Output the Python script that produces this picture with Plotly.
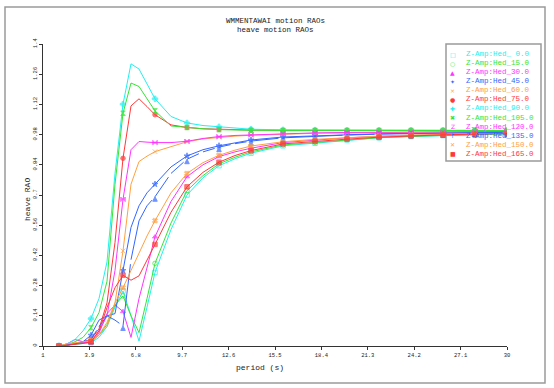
import plotly.graph_objects as go

# ---------------- data ----------------
period = [2, 2.5, 3, 3.5, 4, 4.5, 5, 5.5, 6, 6.5, 7, 7.5, 8, 9, 10, 11, 12, 13, 14,
          16, 18, 20, 22, 24, 26, 28, 30]

hed_0 = [0, 0.003, 0.008, 0.012, 0.015, 0.04, 0.09, 0.18, 0.255, 0.14, 0.023, 0.18, 0.341,
         0.54, 0.70, 0.78, 0.836, 0.868, 0.894, 0.928, 0.940, 0.955, 0.965, 0.971, 0.976, 0.980, 0.983]
hed_15 = [0, 0.003, 0.01, 0.015, 0.02, 0.05, 0.10, 0.19, 0.232, 0.14, 0.062, 0.22, 0.383,
          0.57, 0.72, 0.79, 0.845, 0.875, 0.90, 0.932, 0.944, 0.957, 0.966, 0.972, 0.977, 0.981, 0.984]
hed_30 = [0, 0.01, 0.03, 0.02, 0.015, 0.06, 0.15, 0.19, 0.16, 0.04, 0.22, 0.37, 0.506,
          0.67, 0.785, 0.84, 0.878, 0.90, 0.917, 0.943, 0.955, 0.965, 0.972, 0.977, 0.981, 0.984, 0.987]
hed_45 = [0, 0.005, 0.01, 0.02, 0.05, 0.12, 0.14, 0.15, 0.35, 0.55, 0.65, 0.71, 0.75,
          0.83, 0.881, 0.91, 0.928, 0.943, 0.955, 0.969, 0.975, 0.980, 0.984, 0.986, 0.988, 0.990, 0.991]
hed_60 = [0, 0.005, 0.01, 0.015, 0.02, 0.05, 0.09, 0.20, 0.441, 0.75, 0.855, 0.88, 0.901,
          0.924, 0.947, 0.96, 0.968, 0.973, 0.977, 0.983, 0.986, 0.988, 0.990, 0.991, 0.992, 0.993, 0.994]
hed_75 = [0, 0.005, 0.01, 0.02, 0.03, 0.08, 0.20, 0.48, 0.87, 1.113, 1.146, 1.11, 1.072,
          1.025, 1.013, 1.007, 1.004, 1.002, 1.001, 1.0, 1.0, 0.999, 0.999, 0.999, 0.999, 0.999, 0.999]
hed_90 = [0, 0.01, 0.03, 0.07, 0.127, 0.22, 0.39, 0.80, 1.121, 1.308, 1.284, 1.215, 1.146,
          1.064, 1.034, 1.022, 1.016, 1.010, 1.005, 1.002, 1.001, 1.0, 1.0, 1.0, 1.0, 1.0, 1.0]
hed_105 = [0, 0.005, 0.02, 0.04, 0.085, 0.155, 0.30, 0.75, 1.079, 1.219, 1.203, 1.145, 1.090,
           1.020, 1.013, 1.007, 1.003, 1.001, 1.0, 0.999, 0.999, 0.999, 0.999, 0.999, 0.999, 0.999, 0.999]
hed_120 = [0, 0.005, 0.01, 0.015, 0.02, 0.07, 0.14, 0.35, 0.68, 0.91, 0.948, 0.945, 0.943,
           0.943, 0.949, 0.962, 0.971, 0.976, 0.979, 0.985, 0.988, 0.990, 0.991, 0.992, 0.993, 0.993, 0.994]
hed_135 = [0, 0.005, 0.01, 0.02, 0.03, 0.09, 0.14, 0.12, 0.093, 0.40, 0.58, 0.65, 0.692,
           0.80, 0.866, 0.90, 0.922, 0.938, 0.950, 0.965, 0.973, 0.978, 0.982, 0.985, 0.987, 0.989, 0.990]
hed_150 = [0, 0.01, 0.015, 0.02, 0.025, 0.05, 0.11, 0.20, 0.27, 0.35, 0.43, 0.51, 0.581,
           0.71, 0.80, 0.85, 0.884, 0.908, 0.927, 0.947, 0.958, 0.967, 0.973, 0.978, 0.981, 0.984, 0.986]
hed_165 = [0, 0.003, 0.008, 0.012, 0.019, 0.07, 0.178, 0.27, 0.328, 0.305, 0.325, 0.395, 0.471,
           0.62, 0.738, 0.805, 0.852, 0.883, 0.906, 0.937, 0.949, 0.959, 0.968, 0.974, 0.979, 0.982, 0.985]

series_names = ["Z-Amp:Hed_ 0.0", "Z-Amp:Hed_15.0", "Z-Amp:Hed_30.0", "Z-Amp:Hed_45.0",
                "Z-Amp:Hed_60.0", "Z-Amp:Hed_75.0", "Z-Amp:Hed_90.0", "Z-Amp:Hed_105.0",
                "Z-Amp:Hed_120.0", "Z-Amp:Hed_135.0", "Z-Amp:Hed_150.0", "Z-Amp:Hed_165.0"]
series_values = [hed_0, hed_15, hed_30, hed_45, hed_60, hed_75, hed_90, hed_105,
                 hed_120, hed_135, hed_150, hed_165]

x_tickvals = [1, 3.9, 6.8, 9.7, 12.6, 15.5, 18.4, 21.3, 24.2, 27.1, 30]
x_ticktext = ["1", "3.9", "6.8", "9.7", "12.6", "15.5", "18.4", "21.3", "24.2", "27.1", "30"]
y_tickvals = [0, 0.14, 0.28, 0.42, 0.56, 0.7, 0.84, 0.98, 1.12, 1.26, 1.4]
y_ticktext = ["0", "0.14", "0.28", "0.42", "0.56", "0.7", "0.84", "0.98", "1.12", "1.26", "1.4"]

# ---------------- style ----------------
CY, GR, MG, BL, OR, RD = "#22F0F0", "#33E633", "#FF33FF", "#3366FF", "#FFA040", "#FF3838"
colors = [CY, GR, MG, BL, OR, RD, CY, GR, MG, BL, OR, RD]
symbols = ["square-open", "circle-open", "triangle-up", "star", "x-thin-open", "circle",
           "cross", "hourglass", "bowtie", "arrow-up", "x", "square"]
glyphs = ["□", "○", "▲", "✦", "×", "●", "✚", "✖", "Z", "↑", "✕", "■"]
FONT = "Liberation Mono"

msizes = [4.5 if (p % 2 == 0) else 0 for p in period]

fig = go.Figure()
for name, vals, c, s in zip(series_names, series_values, colors, symbols):
    fig.add_trace(go.Scatter(
        x=period, y=vals, mode="lines+markers", name=name, showlegend=False,
        line=dict(color=c, width=1),
        marker=dict(symbol=s, size=msizes, color=c, line=dict(color=c, width=1)),
    ))

# plot geometry in px
L, R, T, B = 43, 47, 44, 42
W, H = 554, 388
pw, ph = W - L - R, H - T - B


def px_x(px):
    return (px - L) / pw


def px_y(py):
    return (H - B - py) / ph


shapes = [
    dict(type="rect", xref="paper", yref="paper", x0=px_x(5), x1=px_x(545),
         y0=px_y(383), y1=px_y(7), line=dict(color="#9a9a9a", width=1.5), layer="below"),
    dict(type="rect", xref="paper", yref="paper", x0=px_x(446), x1=px_x(541),
         y0=px_y(161), y1=px_y(44), line=dict(color="#9a9a9a", width=1.5),
         fillcolor="white", layer="below"),
]

annotations = [
    dict(text="WMMENTAWAI motion RAOs", x=px_x(275), y=px_y(21.5), xref="paper", yref="paper",
         showarrow=False, font=dict(family=FONT, size=7.5, color="#222"), xanchor="center", yanchor="middle"),
    dict(text="heave motion RAOs", x=px_x(275), y=px_y(30.5), xref="paper", yref="paper",
         showarrow=False, font=dict(family=FONT, size=7.5, color="#222"), xanchor="center", yanchor="middle"),
    dict(text="period (s)", x=px_x(260), y=px_y(367), xref="paper", yref="paper",
         showarrow=False, font=dict(family=FONT, size=8, color="#222"), xanchor="center", yanchor="middle"),
    dict(text="heave RAO", x=px_x(27), y=px_y(200), xref="paper", yref="paper", textangle=-90,
         showarrow=False, font=dict(family=FONT, size=8, color="#222"), xanchor="center", yanchor="middle"),
]
for i, (name, c, g) in enumerate(zip(series_names, colors, glyphs)):
    yy = 54.3 + 9.03 * i
    annotations.append(dict(text=g, x=px_x(452.7), y=px_y(yy), xref="paper", yref="paper",
                            showarrow=False, font=dict(family="DejaVu Sans", size=6, color=c),
                            xanchor="center", yanchor="middle"))
    annotations.append(dict(text=name, x=px_x(463.5), y=px_y(yy), xref="paper", yref="paper",
                            showarrow=False, font=dict(family=FONT, size=7.5, color=c),
                            xanchor="left", yanchor="middle"))

fig.update_layout(
    width=W, height=H,
    margin=dict(l=L, r=R, t=T, b=B, pad=0),
    paper_bgcolor="white", plot_bgcolor="white",
    showlegend=False,
    shapes=shapes, annotations=annotations,
    xaxis=dict(range=[1, 30], tickvals=x_tickvals, ticktext=x_ticktext, showgrid=False,
               zeroline=False, showline=True, linecolor="#333", linewidth=1,
               ticks="outside", ticklen=3, tickcolor="#333",
               tickfont=dict(family=FONT, size=5.5, color="#222")),
    yaxis=dict(range=[0, 1.4], tickvals=y_tickvals, ticktext=y_ticktext, showgrid=False,
               zeroline=False, showline=True, linecolor="#333", linewidth=1,
               ticks="outside", ticklen=3, tickcolor="#333", tickangle=-90,
               tickfont=dict(family=FONT, size=5.5, color="#222")),
)

fig.write_html("out.html", config={"displayModeBar": False},
               post_script="document.body.style.margin='0px';document.body.style.overflow='hidden';")
